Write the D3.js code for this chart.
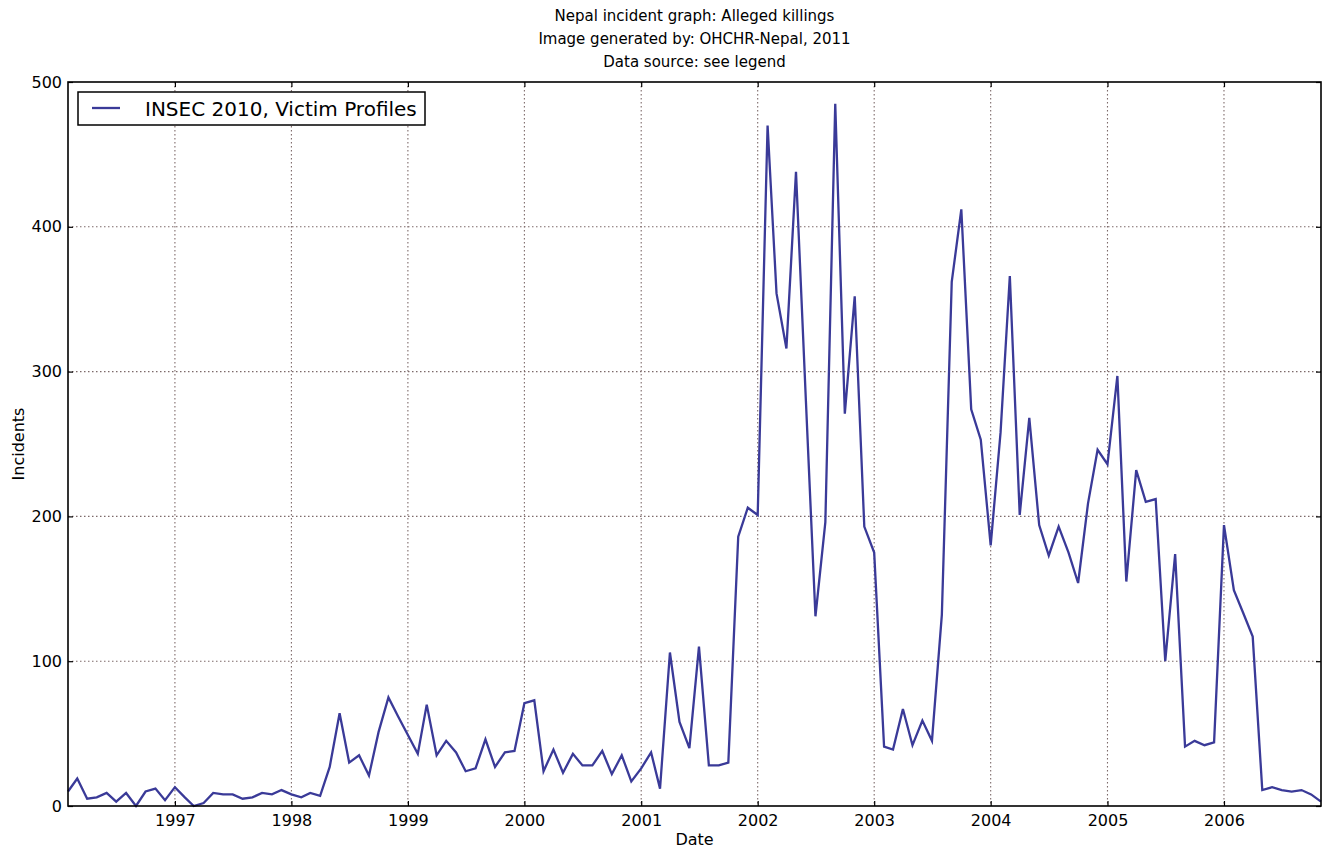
<!DOCTYPE html>
<html>
<head>
<meta charset="utf-8">
<title>Nepal incident graph</title>
<script src="https://cdn.jsdelivr.net/npm/d3@7"></script>
<style>
  body { margin: 0; background: #fff; }
  text { font-family: "DejaVu Sans", "Bitstream Vera Sans", sans-serif; fill: #000; }
</style>
</head>
<body>
<div id="svgOutput"></div>
<script>
// Data

const titleLines = [
  "Nepal incident graph: Alleged killings",
  "Image generated by: OHCHR-Nepal, 2011",
  "Data source: see legend"
];
const seriesName = "INSEC 2010, Victim Profiles";
const firstMonth = "1996-02";

// monthly alleged killings, one row per calendar year
const counts1996 = [10, 19, 5, 6, 9, 3, 9, 0, 10, 12, 4];
const counts1997 = [13, 6, 0, 2, 9, 8, 8, 5, 6, 9, 8, 11];
const counts1998 = [8, 6, 9, 7, 27, 64, 30, 35, 21, 51, 75, 62];
const counts1999 = [49, 36, 70, 35, 45, 37, 24, 26, 46, 27, 37, 38];
const counts2000 = [71, 73, 24, 39, 23, 36, 28, 28, 38, 22, 35, 17];
const counts2001 = [26, 37, 12, 106, 58, 40, 110, 28, 28, 30, 186, 206];
const counts2002 = [201, 470, 354, 316, 438, 280, 131, 196, 485, 271, 352, 193];
const counts2003 = [175, 41, 39, 67, 42, 59, 45, 132, 362, 412, 274, 253];
const counts2004 = [180, 258, 366, 201, 268, 194, 173, 193, 175, 154, 209, 246];
const counts2005 = [236, 297, 155, 232, 210, 212, 100, 174, 41, 45, 42, 44];
const counts2006 = [194, 149, 134, 117, 11, 13, 11, 10, 11, 8, 3];

const yTicks = [0, 100, 200, 300, 400, 500];

// Config

const width = 1327;
const height = 851;
const margin = {
  "top": 82,
  "bottom": 45,
  "left": 68,
  "right": 6
};
const lineColor = "#3a3a98";
const gridColor = "#7d6a6a";

const svg = d3.select("#svgOutput")
  .append("svg")
  .attr("width", width)
  .attr("height", height);

// Build the monthly points

const allCounts = [].concat(counts1996, counts1997, counts1998, counts1999, counts2000,
  counts2001, counts2002, counts2003, counts2004, counts2005, counts2006);
const start = d3.timeParse("%Y-%m")(firstMonth);
const data = allCounts.map((v, i) => ({ date: d3.timeMonth.offset(start, i), value: v }));

// Scales

const xScale = d3.scaleTime()
  .domain(d3.extent(data, d => d.date))
  .range([margin.left, width - margin.right]);

const yScale = d3.scaleLinear()
  .domain([yTicks[0], yTicks[yTicks.length - 1]])
  .range([height - margin.bottom, margin.top]);

const years = xScale.ticks(d3.timeYear.every(1));

// Grid

const grid = svg.append("g")
  .attr("stroke", gridColor)
  .attr("stroke-width", 1.1)
  .attr("stroke-dasharray", "1.5,2.5");

grid.selectAll("line.vgrid")
  .data(years)
  .join("line")
  .attr("class", "vgrid")
  .attr("x1", d => xScale(d)).attr("x2", d => xScale(d))
  .attr("y1", margin.top).attr("y2", height - margin.bottom);

grid.selectAll("line.hgrid")
  .data(yTicks.slice(1, -1))
  .join("line")
  .attr("class", "hgrid")
  .attr("x1", margin.left).attr("x2", width - margin.right)
  .attr("y1", d => yScale(d)).attr("y2", d => yScale(d));

// Line

const line = d3.line()
  .x(d => xScale(d.date))
  .y(d => yScale(d.value));

svg.append("path")
  .datum(data)
  .attr("fill", "none")
  .attr("stroke", lineColor)
  .attr("stroke-width", 2.3)
  .attr("stroke-linejoin", "miter")
  .attr("d", line);

// Axes, ticks pointing inwards on all four sides

const xAxis = d3.axisBottom(xScale).tickValues(years).tickFormat(d3.timeFormat("%Y"))
  .tickSize(-5).tickPadding(9);
const xAxisTop = d3.axisTop(xScale).tickValues(years).tickFormat("").tickSize(-5);
const yAxis = d3.axisLeft(yScale).tickValues(yTicks).tickSize(-5).tickPadding(6);
const yAxisRight = d3.axisRight(yScale).tickValues(yTicks).tickFormat("").tickSize(-5);

function styleAxis(g) {
  g.select(".domain").remove();
  g.selectAll(".tick line").attr("stroke", "#000").attr("stroke-width", 1.2);
  g.selectAll(".tick text").style("font-size", "16px").attr("fill", "#000");
}

svg.append("g")
  .attr("transform", "translate(0," + (height - margin.bottom) + ")")
  .call(xAxis).call(styleAxis);

svg.append("g")
  .attr("transform", "translate(0," + margin.top + ")")
  .call(xAxisTop).call(styleAxis);

svg.append("g")
  .attr("transform", "translate(" + margin.left + ",0)")
  .call(yAxis).call(styleAxis);

svg.append("g")
  .attr("transform", "translate(" + (width - margin.right) + ",0)")
  .call(yAxisRight).call(styleAxis);

// Frame

svg.append("rect")
  .attr("x", margin.left)
  .attr("y", margin.top)
  .attr("width", width - margin.left - margin.right)
  .attr("height", height - margin.top - margin.bottom)
  .attr("fill", "none")
  .attr("stroke", "#000")
  .attr("stroke-width", 1.6);

// Titles and labels

svg.selectAll("text.title")
  .data(titleLines)
  .join("text")
  .attr("class", "title")
  .attr("x", (margin.left + width - margin.right) / 2)
  .attr("y", (d, i) => 21 + i * 23)
  .attr("text-anchor", "middle")
  .style("font-size", "15px")
  .text(d => d);

svg.append("text")
  .attr("x", (margin.left + width - margin.right) / 2)
  .attr("y", 845)
  .attr("text-anchor", "middle")
  .style("font-size", "16px")
  .text("Date");

svg.append("text")
  .attr("transform", "translate(24," + ((margin.top + height - margin.bottom) / 2) + ") rotate(-90)")
  .attr("text-anchor", "middle")
  .style("font-size", "16px")
  .text("Incidents");

// Legend

const legend = svg.append("g")
  .attr("transform", "translate(" + (margin.left + 10) + "," + (margin.top + 10) + ")");

legend.append("rect")
  .attr("width", 347)
  .attr("height", 33)
  .attr("fill", "#fff")
  .attr("stroke", "#000")
  .attr("stroke-width", 1.5);

legend.append("line")
  .attr("x1", 14).attr("x2", 42)
  .attr("y1", 16).attr("y2", 16)
  .attr("stroke", lineColor)
  .attr("stroke-width", 2.3);

legend.append("text")
  .attr("x", 67)
  .attr("y", 24)
  .style("font-size", "20px")
  .text(seriesName);
</script>
</body>
</html>
